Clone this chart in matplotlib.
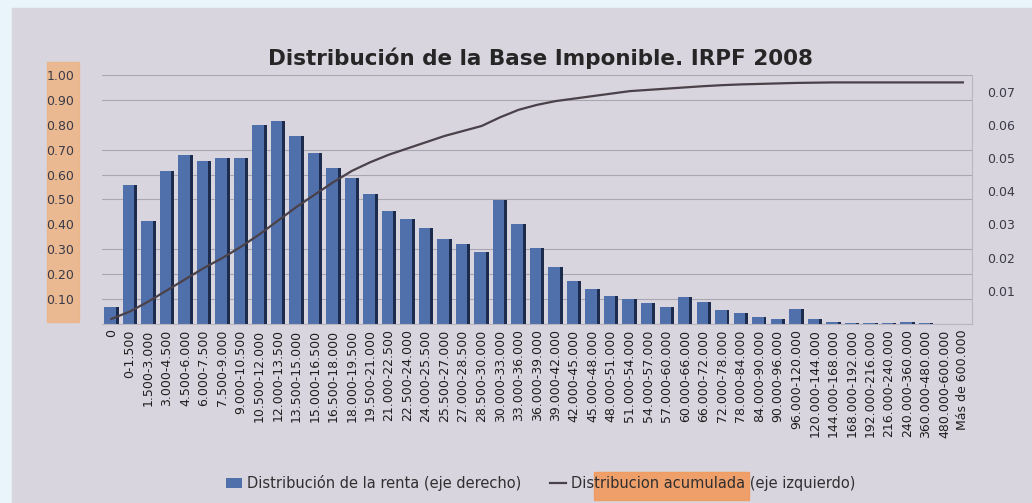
import matplotlib
matplotlib.use('Agg')
import matplotlib.pyplot as plt
from matplotlib.patches import Rectangle
from matplotlib.ticker import MultipleLocator, FormatStrFormatter

# tramos de base imponible (euros)
tramos = ['0', '0-1.500', '1.500-3.000', '3.000-4.500', '4.500-6.000', '6.000-7.500',
          '7.500-9.000', '9.000-10.500', '10.500-12.000', '12.000-13.500', '13.500-15.000',
          '15.000-16.500', '16.500-18.000', '18.000-19.500', '19.500-21.000', '21.000-22.500',
          '22.500-24.000', '24.000-25.500', '25.500-27.000', '27.000-28.500', '28.500-30.000',
          '30.000-33.000', '33.000-36.000', '36.000-39.000', '39.000-42.000', '42.000-45.000',
          '45.000-48.000', '48.000-51.000', '51.000-54.000', '54.000-57.000', '57.000-60.000',
          '60.000-66.000', '66.000-72.000', '72.000-78.000', '78.000-84.000', '84.000-90.000',
          '90.000-96.000', '96.000-120.000', '120.000-144.000', '144.000-168.000',
          '168.000-192.000', '192.000-216.000', '216.000-240.000', '240.000-360.000',
          '360.000-480.000', '480.000-600.000', 'Más de 600.000']

# distribucion de la renta (eje derecho)
renta = [0.005, 0.042, 0.031, 0.046, 0.051, 0.049, 0.050, 0.050, 0.060, 0.061,
         0.0565, 0.0515, 0.047, 0.044, 0.039, 0.034, 0.0315, 0.029, 0.0257, 0.024,
         0.0216, 0.0373, 0.030, 0.023, 0.0171, 0.013, 0.0105, 0.0085, 0.0075, 0.0062,
         0.005, 0.008, 0.0065, 0.0042, 0.0034, 0.0021, 0.0014, 0.0045, 0.0014, 0.0006,
         0.0004, 0.0003, 0.0002, 0.0005, 0.0002, 0.0001, 0.0001]

# distribucion acumulada (eje izquierdo)
acumulada = [0.02, 0.05, 0.09, 0.135, 0.18, 0.225, 0.265, 0.31, 0.36, 0.415,
             0.47, 0.52, 0.57, 0.615, 0.65, 0.68, 0.705, 0.73, 0.755, 0.775,
             0.795, 0.83, 0.86, 0.88, 0.895, 0.905, 0.915, 0.925, 0.935, 0.94,
             0.945, 0.95, 0.955, 0.959, 0.962, 0.964, 0.966, 0.968, 0.969, 0.97,
             0.97, 0.97, 0.97, 0.97, 0.97, 0.97, 0.97]

x = list(range(len(tramos)))

fig = plt.figure(figsize=(10.32, 5.03), dpi=100, facecolor='#eaf4fb')
# fondo de la foto y marcas de rotulador
fig.patches.append(Rectangle((0.012, 0.0), 0.988, 0.984, transform=fig.transFigure,
                             color='#d8d5de', zorder=-10))
fig.patches.append(Rectangle((0.046, 0.36), 0.031, 0.517, transform=fig.transFigure,
                             color='#eeb485', alpha=0.85, zorder=-5))
fig.patches.append(Rectangle((0.576, 0.006), 0.15, 0.056, transform=fig.transFigure,
                             color='#f29a5c', alpha=0.9, zorder=-5))

ax = fig.add_axes([0.099, 0.356, 0.843, 0.495])
ax.patch.set_visible(False)

# barras (eje derecho)
b = ax.bar(x, renta, width=0.78, color='#4f70aa', zorder=2,
           label='Distribución de la renta (eje derecho)')
ax.bar([i + 0.31 for i in x], renta, width=0.16, color='#1d2b4c', zorder=3)
ax.set_ylim(0, 0.075)
ax.set_xlim(-0.5, len(tramos) - 0.5)
ax.yaxis.set_minor_locator(MultipleLocator(0.0075))
ax.grid(True, which='minor', axis='y', color='#a9a7b2', linewidth=0.8, zorder=0)
ax.set_xticks(x)
ax.set_xticklabels(tramos, rotation=90, fontsize=9, color='#1e1e1e')
ax.tick_params(axis='x', length=0, pad=4)
for s in ['top', 'left']:
    ax.spines[s].set_visible(False)
ax.spines['right'].set_color('#b8b6c0')
ax.spines['bottom'].set_color('#b8b6c0')

# linea acumulada (eje izquierdo)
ax2 = ax.twinx()
l, = ax2.plot(x, acumulada, color='#4a4149', linewidth=1.6,
              label='Distribucion acumulada (eje izquierdo)')
ax2.set_ylim(0, 1.0)
ax2.yaxis.tick_left()
ax2.set_yticks([0.1, 0.2, 0.3, 0.4, 0.5, 0.6, 0.7, 0.8, 0.9, 1.0])
ax2.yaxis.set_major_formatter(FormatStrFormatter('%.2f'))
ax2.tick_params(axis='y', length=0, pad=20, labelsize=9, labelcolor='#3a3a48')
for s in ax2.spines.values():
    s.set_visible(False)

# twinx pone el eje original a la izquierda: devolverlo a la derecha
ax.yaxis.tick_right()
ax.set_yticks([0.01, 0.02, 0.03, 0.04, 0.05, 0.06, 0.07])
ax.yaxis.set_major_formatter(FormatStrFormatter('%.2f'))
ax.tick_params(axis='y', which='both', length=0, pad=11, labelsize=9, labelcolor='#3a3a48')

fig.text(0.524, 0.885, 'Distribución de la Base Imponible. IRPF 2008', ha='center',
         va='center', fontsize=15.5, fontweight='bold', color='#262626', family='DejaVu Sans')

fig.legend([b, l], [b.get_label(), l.get_label()], loc='center', ncol=2,
           bbox_to_anchor=(0.524, 0.04), frameon=False, fontsize=10.5, columnspacing=2.0,
           handlelength=1.1, handletextpad=0.3, labelcolor='#303030')

fig.savefig('out.png', dpi=100, facecolor=fig.get_facecolor())
